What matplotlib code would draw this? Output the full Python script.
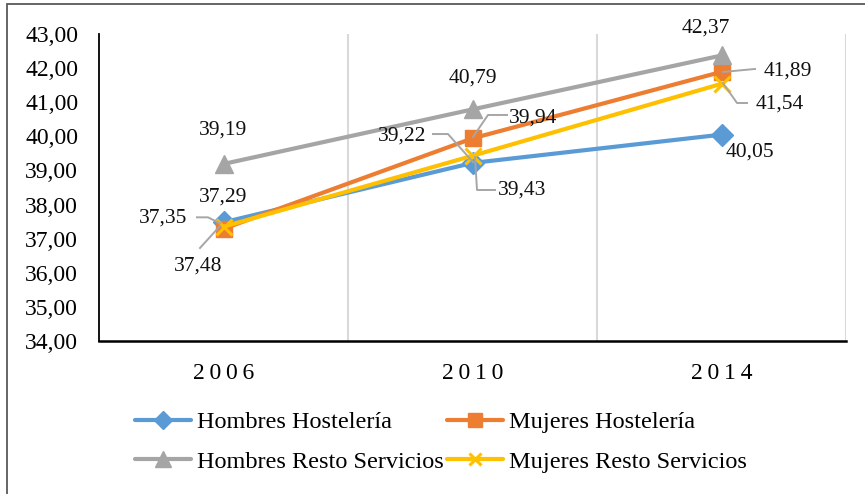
import matplotlib
matplotlib.use("Agg")
import matplotlib.pyplot as plt
from matplotlib.lines import Line2D
from matplotlib.patches import Rectangle

# Data
years = ["2006", "2010", "2014"]
hombres_hosteleria = [37.48, 39.22, 40.05]
mujeres_hosteleria = [37.29, 39.94, 41.89]
hombres_resto = [39.19, 40.79, 42.37]
mujeres_resto = [37.35, 39.43, 41.54]

series_names = ["Hombres Hostelería", "Mujeres Hostelería",
                "Hombres Resto Servicios", "Mujeres Resto Servicios"]

plt.rcParams["font.family"] = ["Liberation Serif", "DejaVu Serif"]

W, H = 865, 494
fig = plt.figure(figsize=(W / 100, H / 100), dpi=100)
ax = fig.add_axes([99 / W, 1 - 341 / H, (846 - 99) / W, (341 - 34) / H])

xs = [i + 0.5 for i in range(len(years))]

styles = [
    dict(color="#5B9BD5", marker="D", markersize=11),
    dict(color="#ED7D31", marker="s", markersize=12),
    dict(color="#A5A5A5", marker="^", markersize=13),
    dict(color="#FFC000", marker="x", markersize=11, markeredgewidth=2.2),
]
all_series = [hombres_hosteleria, mujeres_hosteleria, hombres_resto, mujeres_resto]
handles = []
for vals, st, name in zip(all_series, styles, series_names):
    ln, = ax.plot(xs, vals, lw=3, label=name, solid_capstyle="round",
                  markeredgecolor=st["color"], **st)
    handles.append(ln)

ax.set_xlim(0, 3)
ax.set_ylim(34, 43)
ax.set_yticks(range(34, 44))
ax.set_yticklabels([f"{v:.2f}".replace(".", ",") for v in range(34, 44)])
ax.set_xticks(xs)
ax.set_xticklabels(["\u2009".join(y) for y in years])
ax.tick_params(axis="y", length=0, pad=15, labelsize=17)
ax.tick_params(axis="x", length=0, pad=16, labelsize=17)

# vertical separators between categories
for xv in [1, 2, 3]:
    ax.axvline(xv, color="#D9D9D9", lw=1.5, zorder=0)

for s in ["top", "right"]:
    ax.spines[s].set_visible(False)
ax.spines["left"].set_color("black")
ax.spines["left"].set_linewidth(1.3)
ax.spines["bottom"].set_color("black")
ax.spines["bottom"].set_linewidth(1.8)

# Value labels: (series index, category index, text offset px, leader polyline px)
# offsets: +x right, +y down
label_specs = [
    (2, 0, (0, -34), None),
    (1, 0, (0, -32), None),
    (3, 0, (-60, -9), [(-26.5, -9.4), (-15.5, -9.4), (-3.5, -3.4)]),
    (0, 0, (-25.5, 43.7), [(-23.5, 25.7), (-3.5, 3.7)]),
    (2, 1, (0.5, -31.4), None),
    (1, 1, (60.5, -20.4), [(0.5, -1.4), (15.5, -23.4), (34.5, -23.4)]),
    (0, 1, (-70.5, -26.9), [(-39.5, -28.9), (-24.5, -28.9), (0.5, -0.9)]),
    (3, 1, (49.5, 34.2), [(2.5, 1.2), (4.5, 34.2), (22.5, 34.2)]),
    (2, 2, (-15.5, -27.5), None),
    (1, 2, (66.5, -0.9), [(1.5, 0.1), (33.5, -2.9)]),
    (3, 2, (58.5, 20.2), [(1.5, -0.8), (15.5, 19.2), (25.5, 19.2)]),
    (0, 2, (28.5, 17.4), None),
]

for si, ci, (dx, dy), leader in label_specs:
    v = all_series[si][ci]
    px, py = ax.transData.transform((xs[ci], v))
    txt = f"{v:.2f}".replace(".", ",")
    fig.text((px + dx) / W, (py - dy) / H, txt, ha="center", va="center",
             fontsize=15.5, color="#111111")
    if leader:
        lx = [(px + a) / W for a, b in leader]
        ly = [(py - b) / H for a, b in leader]
        fig.add_artist(Line2D(lx, ly, transform=fig.transFigure,
                              color="#A6A6A6", lw=1.4))

# legend: column-major order
order = [0, 2, 1, 3]
leg = fig.legend([handles[i] for i in order], [series_names[i] for i in order],
                 ncol=2, loc="upper center", bbox_to_anchor=(441 / W, 1 - 399 / H),
                 frameon=False, fontsize=17.5, handlelength=2.3, handletextpad=0.25,
                 columnspacing=0.1, labelspacing=0.72, borderpad=0, markerscale=0.85)

# outer chart frame
fig.add_artist(Rectangle((7 / W, -0.1), 2, 1 - 4 / H + 0.1, transform=fig.transFigure,
                         fill=False, edgecolor="#595959", lw=1.3))

fig.savefig("out.png", dpi=100)
